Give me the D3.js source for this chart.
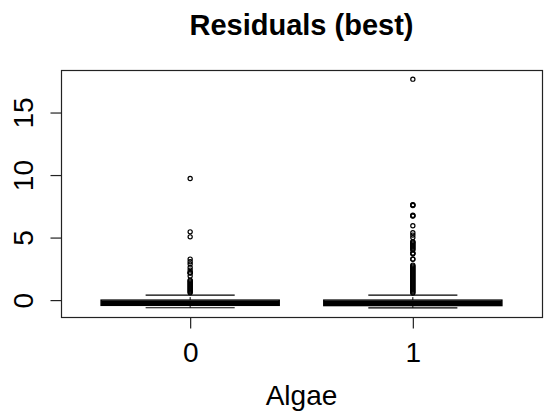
<!DOCTYPE html>
<html>
<head>
<meta charset="utf-8">
<script src="https://cdn.jsdelivr.net/npm/d3@7"></script>
<style>
  html, body { margin: 0; padding: 0; background: #fff; }
  svg { display: block; }
  text { font-family: "Liberation Sans", Arial, sans-serif; fill: #000; }
</style>
</head>
<body>
<svg id="chart" width="544" height="415"></svg>
<script>
// Groups on the x axis
const categories = ["0", "1"];

// Five-number summaries: lower whisker, Q1, median, Q3, upper whisker
const lowerWhisker = [-0.61, -0.62];
const q1Values     = [-0.42, -0.44];
const medianValues = [-0.22, -0.22];
const q3Values     = [0.00, 0.00];
const upperWhisker = [0.40, 0.40];

// Outlying residuals beyond the upper whisker, per group
const outliers0 = [
  0.58, 0.66, 0.74, 0.82, 0.90, 0.98, 1.06, 1.14, 1.22, 1.30, 1.38, 1.46, 1.54, 1.60,
  1.92, 2.16, 2.18, 2.21, 2.40, 2.61, 2.88, 3.07, 3.28,
  5.06, 5.46, 9.73
];
const outliers1 = [
  0.56, 0.64, 0.72, 0.80, 0.88, 0.96, 1.04, 1.12, 1.20, 1.28, 1.36, 1.44, 1.52, 1.60,
  1.68, 1.76, 1.84, 1.92, 2.00, 2.08, 2.16, 2.24, 2.32, 2.40, 2.48, 2.56, 2.64, 2.72, 2.80,
  3.26, 3.29, 3.70, 3.73, 3.76,
  4.00, 4.08, 4.16, 4.24, 4.32, 4.40, 4.48, 4.56, 4.64, 4.67,
  5.00, 5.20, 5.39, 5.95, 6.72, 6.75, 6.78, 7.57, 7.60, 7.63,
  17.67
];

// Axis ticks and texts
const yTicks = [0, 5, 10, 15];
const titleText = "Residuals (best)";
const xLabelText = "Algae";

const outlierSets = [outliers0, outliers1];

const svg = d3.select("#chart");
const plot = { left: 61, right: 542, top: 70, bottom: 317 };

// R-style 4% padding around the data range
const allVals = lowerWhisker.concat(outliers0, outliers1, upperWhisker);
const yMin = d3.min(allVals), yMax = d3.max(allVals);
const pad = (yMax - yMin) * 0.04;
const y = d3.scaleLinear().domain([yMin - pad, yMax + pad]).range([plot.bottom, plot.top]);

const nGroups = categories.length;
const xPad = nGroups * 0.04;
const x = d3.scaleLinear().domain([0.5 - xPad, nGroups + 0.5 + xPad]).range([plot.left, plot.right]);

const boxHalf = x(1.4) - x(1);
const stapleHalf = x(1.2) - x(1);

// Boxes
categories.forEach((cat, i) => {
  const cx = x(i + 1);
  const g = svg.append("g").attr("class", "box");

  // whisker stems (dashed)
  g.append("line")
    .attr("x1", cx).attr("x2", cx)
    .attr("y1", y(q3Values[i])).attr("y2", y(upperWhisker[i]))
    .attr("stroke", "#000").attr("stroke-width", 1).attr("stroke-dasharray", "3,2");
  g.append("line")
    .attr("x1", cx).attr("x2", cx)
    .attr("y1", y(q1Values[i])).attr("y2", y(lowerWhisker[i]))
    .attr("stroke", "#000").attr("stroke-width", 1).attr("stroke-dasharray", "3,2");

  // staples
  [upperWhisker[i], lowerWhisker[i]].forEach(v => {
    g.append("line")
      .attr("x1", cx - stapleHalf).attr("x2", cx + stapleHalf)
      .attr("y1", y(v)).attr("y2", y(v))
      .attr("stroke", "#000").attr("stroke-width", 1.2);
  });

  // box
  g.append("rect")
    .attr("x", cx - boxHalf).attr("width", 2 * boxHalf)
    .attr("y", y(q3Values[i])).attr("height", y(q1Values[i]) - y(q3Values[i]))
    .attr("fill", "#fff").attr("stroke", "#000").attr("stroke-width", 1.4);

  // median
  g.append("line")
    .attr("x1", cx - boxHalf).attr("x2", cx + boxHalf)
    .attr("y1", y(medianValues[i])).attr("y2", y(medianValues[i]))
    .attr("stroke", "#000").attr("stroke-width", 4.2);

  // outliers
  g.selectAll("circle.out")
    .data(outlierSets[i])
    .join("circle")
    .attr("class", "out")
    .attr("cx", cx)
    .attr("cy", d => y(d))
    .attr("r", 2.1)
    .attr("fill", "none")
    .attr("stroke", "#000")
    .attr("stroke-width", 1.2);
});

// Plot frame
svg.append("rect")
  .attr("x", plot.left + 0.5).attr("y", plot.top + 0.5)
  .attr("width", plot.right - plot.left).attr("height", plot.bottom - plot.top)
  .attr("fill", "none").attr("stroke", "#222").attr("stroke-width", 1.2);

// Y axis
const yAxis = svg.append("g")
  .attr("transform", `translate(${plot.left + 0.5},0)`)
  .call(d3.axisLeft(y).tickValues(yTicks).tickSize(11).tickFormat(d3.format("d")));
yAxis.select(".domain").remove();
yAxis.selectAll(".tick line").attr("stroke", "#222").attr("stroke-width", 1.2);
yAxis.selectAll(".tick text")
  .attr("x", null).attr("dy", null)
  .attr("transform", "translate(-29,0) rotate(-90)")
  .attr("text-anchor", "middle")
  .style("font-size", "28px")
  .style("font-family", "'Liberation Sans', Arial, sans-serif")
  .attr("fill", "#000");

// X axis
const xAxis = svg.append("g")
  .attr("transform", `translate(0,${plot.bottom + 0.5})`)
  .call(d3.axisBottom(x).tickValues(d3.range(1, nGroups + 1)).tickSize(11)
    .tickFormat(d => categories[d - 1]));
xAxis.select(".domain").remove();
xAxis.selectAll(".tick line").attr("stroke", "#222").attr("stroke-width", 1.2);
xAxis.selectAll(".tick text")
  .attr("y", 44).attr("dy", null)
  .style("font-size", "28px")
  .style("font-family", "'Liberation Sans', Arial, sans-serif")
  .attr("fill", "#000");

// Title and axis label
svg.append("text")
  .attr("x", (plot.left + plot.right) / 2).attr("y", 35)
  .attr("text-anchor", "middle")
  .style("font-size", "29px").style("font-weight", "bold")
  .text(titleText);

svg.append("text")
  .attr("x", (plot.left + plot.right) / 2).attr("y", 405)
  .attr("text-anchor", "middle")
  .style("font-size", "28px")
  .text(xLabelText);
</script>
</body>
</html>
